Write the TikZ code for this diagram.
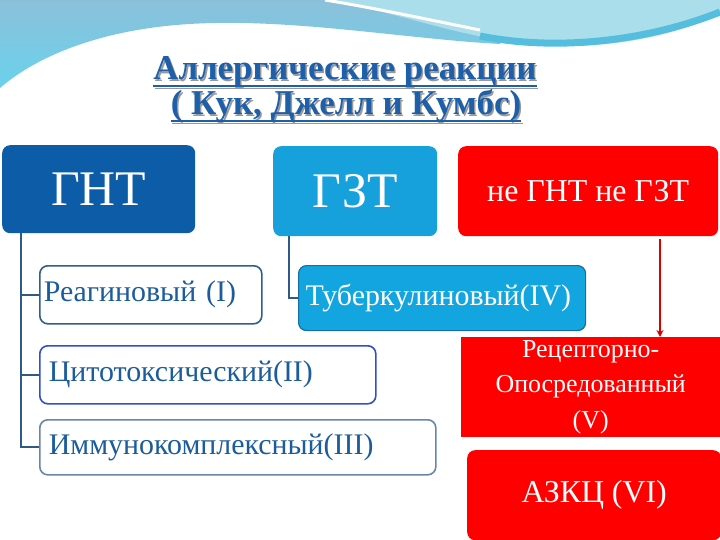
\documentclass[tikz,border=0pt]{standalone}
\usepackage{fontspec}
\setmainfont{Liberation Serif}
\usetikzlibrary{arrows.meta,calc}
\definecolor{gntblue}{RGB}{12,92,168}
\definecolor{gztblue}{RGB}{22,160,220}
\definecolor{tubblue}{RGB}{18,165,224}
\definecolor{tubedge}{RGB}{22,110,165}
\definecolor{boxred}{RGB}{255,0,0}
\definecolor{connblue}{RGB}{45,90,135}
\definecolor{textblue}{RGB}{28,92,155}
\definecolor{reagedge}{RGB}{47,95,143}
\definecolor{cytedge}{RGB}{48,80,200}
\definecolor{immedge}{RGB}{106,134,166}
\definecolor{titleblue}{RGB}{30,95,170}
\definecolor{wavetop}{RGB}{140,192,218}
\definecolor{wavebot}{RGB}{105,210,236}
\definecolor{wavelight}{RGB}{170,222,234}
\definecolor{wavedark}{RGB}{85,190,222}
\tikzset{
  box/.style={rounded corners=8bp, inner sep=0pt, anchor=north west},
  whitebox/.style={box, fill=white, line width=1.6bp, text=textblue, align=left,
    font=\fontsize{30}{32}\selectfont},
  conn/.style={draw=connblue, line width=2bp},
  titletext/.style={font=\bfseries\fontsize{35}{38}\selectfont, inner sep=0pt, anchor=base},
}
\begin{document}
\begin{tikzpicture}[x=1bp,y=-1bp]
\useasboundingbox (0,0) rectangle (720,540);
\fill[white] (0,0) rectangle (720,540);
% background waves
\shade[top color=wavetop, bottom color=wavebot]
  (0,0) -- (500,0) -- (500,44) .. controls (390,38) and (260,12) .. (150,28)
  .. controls (80,38) and (30,62) .. (0,88) -- cycle;
\fill[wavelight] (330,0) .. controls (400,14) and (440,30) .. (500,40)
  .. controls (580,54) and (660,42) .. (720,14) -- (720,0) -- cycle;
\draw[wavedark, line width=7bp] (480,36) .. controls (560,52) and (650,40) .. (720,12);
\draw[white, line width=3bp] (325,0) .. controls (380,9) and (430,20) .. (480,30);
% title
\node[titletext, text=black!40] (t1s) at (346.5,81.5) {Аллергические реакции};
\node[titletext, text=black!40] (t2s) at (347.5,116.5) {( Кук, Джелл и Кумбс)};
\draw[black!40, line width=1.8bp] ($(t1s.base west)+(0,7)$) -- ($(t1s.base east)+(0,7)$);
\draw[black!40, line width=1.8bp] ($(t2s.base west)+(0,7)$) -- ($(t2s.base east)+(0,7)$);
\node[titletext, text=titleblue] (t1) at (345,80) {Аллергические реакции};
\node[titletext, text=titleblue] (t2) at (346,115) {( Кук, Джелл и Кумбс)};
\draw[titleblue, line width=1.8bp] ($(t1.base west)+(0,6)$) -- ($(t1.base east)+(0,6)$);
\draw[titleblue, line width=1.8bp] ($(t2.base west)+(0,6)$) -- ($(t2.base east)+(0,6)$);
% top boxes
\node[box, fill=gntblue, minimum width=193bp, minimum height=88bp, text=white,
  font=\fontsize{50}{50}\selectfont] (gnt) at (2,145) {ГНТ};
\node[box, fill=gztblue, minimum width=164bp, minimum height=90bp, text=white,
  font=\fontsize{50}{50}\selectfont] (gzt) at (273,146) {ГЗТ};
\node[box, fill=boxred, minimum width=260bp, minimum height=90bp, text=white,
  font=\fontsize{32}{34}\selectfont] (neither) at (458,146) {не ГНТ не ГЗТ};
% sub boxes
\node[whitebox, draw=reagedge, text width=214bp, inner xsep=4bp, minimum height=58bp] (reag) at (39,265) {Реагиновый (I)};
\node[box, fill=tubblue, draw=tubedge, line width=1.2bp, text=white, align=left,
  font=\fontsize{30}{32}\selectfont, text width=273bp, inner xsep=7bp, minimum height=65bp] (tub) at (298,265) {Туберкулиновый(IV)};
\node[whitebox, draw=cytedge, text width=318bp, inner xsep=9bp, minimum height=58bp] (cyt) at (39,345) {Цитотоксический(II)};
\node[whitebox, draw=immedge, text width=378bp, inner xsep=9bp, minimum height=55bp] (imm) at (39,419) {Иммунокомплексный(III)};
\node[box, rounded corners=0pt, fill=boxred, minimum width=259bp, minimum height=100bp, text=white, align=center,
  font=\fontsize{26}{36}\selectfont] (rec) at (461,337) {Рецепторно-\\Опосредованный\\(V)};
\node[box, fill=boxred, minimum width=254bp, minimum height=90bp, text=white,
  font=\fontsize{32}{34}\selectfont] (adcc) at (467,450) {АЗКЦ (VI)};
% connectors
\draw[conn] ([xshift=19bp]gnt.south west) |- (reag.west);
\draw[conn] ([xshift=19bp]gnt.south west) |- (cyt.west);
\draw[conn] ([xshift=19bp]gnt.south west) |- (imm.west);
\draw[conn] ([xshift=16bp]gzt.south west) |- (tub.west);
\coordinate (ax) at (660,0);
\draw[boxred!85!black, line width=1.8bp, -{Stealth[length=7bp,width=7bp]}, shorten <=3bp]
  (neither.south -| ax) -- (rec.north -| ax);
\end{tikzpicture}
\end{document}
